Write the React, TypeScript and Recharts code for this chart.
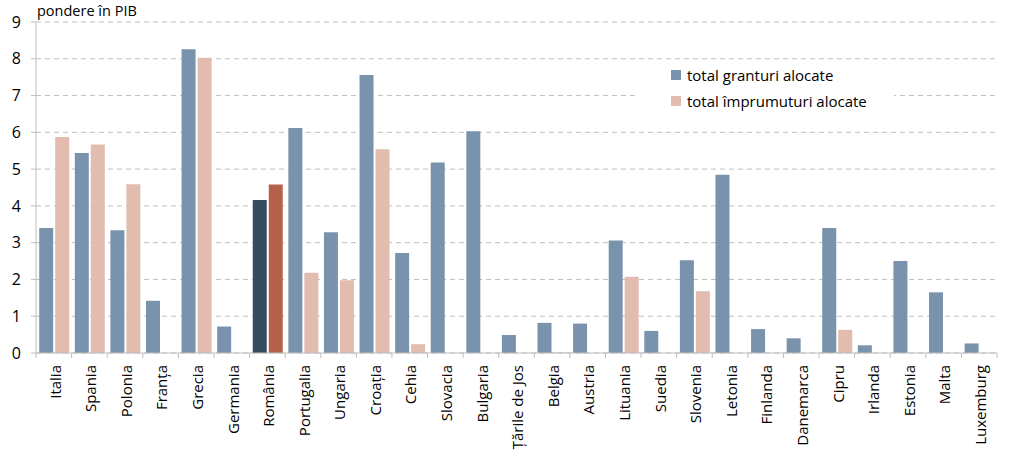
import React from 'react'
import { BarChart, Bar, XAxis, YAxis, CartesianGrid, Legend, Cell } from 'recharts'

const countries = [
    'Italia', 'Spania', 'Polonia', 'Franța', 'Grecia', 'Germania', 'România', 'Portugalia',
    'Ungaria', 'Croația', 'Cehia', 'Slovacia', 'Bulgaria', 'Țările de Jos', 'Belgia', 'Austria',
    'Lituania', 'Suedia', 'Slovenia', 'Letonia', 'Finlanda', 'Danemarca', 'Cipru', 'Irlanda',
    'Estonia', 'Malta', 'Luxemburg'
]

const granturi = [
    3.40, 5.44, 3.34, 1.42, 8.26, 0.72, 4.16, 6.12, 3.28, 7.56, 2.72, 5.18, 6.03, 0.49,
    0.82, 0.80, 3.06, 0.60, 2.52, 4.85, 0.65, 0.40, 3.40, 0.21, 2.50, 1.65, 0.26
]

const imprumuturi = [
    5.87, 5.67, 4.59, 0, 8.03, 0, 4.58, 2.18, 1.98, 5.54, 0.24, 0, 0, 0,
    0.02, 0, 2.07, 0, 1.68, 0, 0, 0, 0.63, 0, 0, 0, 0
]

const yTicks = [0, 1, 2, 3, 4, 5, 6, 7, 8, 9]

const GRANT = '#7A93AD'
const LOAN = '#E1BCAF'
const RO_GRANT = '#344B60'
const RO_LOAN = '#B5604A'
const FONT = '"Open Sans", "Noto Sans", sans-serif'

const data = countries.map((c, i) => ({ country: c, granturi: granturi[i], imprumuturi: imprumuturi[i] }))

const STEP = 961 / countries.length

function CountryTick(props: any) {
    const { x, y, payload, index } = props
    const axisY = y - 9
    const ty = axisY + 12
    return (
        <g>
            <line x1={x - STEP / 2} y1={axisY} x2={x - STEP / 2} y2={axisY + 5} stroke="#BFBFBF" />
            {index === countries.length - 1 && (
                <line x1={x + STEP / 2} y1={axisY} x2={x + STEP / 2} y2={axisY + 5} stroke="#BFBFBF" />
            )}
            <text
                x={x}
                y={ty}
                dy="0.45em"
                textAnchor="end"
                transform={`rotate(-90, ${x}, ${ty})`}
                fill="#000"
                fontSize={15}
                fontFamily={FONT}
            >
                {payload.value}
            </text>
        </g>
    )
}

function LegendBox(props: any) {
    const items = (props.payload || []) as any[]
    return (
        <div style={{ background: '#fff', padding: '0 0 6px 35px', fontFamily: FONT, fontSize: 15, textAlign: 'left' }}>
            {items.map((it) => (
                <div key={it.value} style={{ display: 'flex', alignItems: 'center', height: 26 }}>
                    <span style={{ width: 10, height: 10, background: it.color, marginRight: 6 }} />
                    <span style={{ color: '#000' }}>{it.value}</span>
                </div>
            ))}
        </div>
    )
}

export default function App() {
    return (
        <div style={{ position: 'absolute', left: 0, top: 0 }}>
            <BarChart
                width={1024}
                height={463}
                data={data}
                margin={{ top: 22, right: 27, left: 0, bottom: 0 }}
                barCategoryGap="9%"
                barGap={2}
            >
                <text x={37} y={16} fontSize={14.5} fontFamily={FONT} fill="#000">
                    pondere în PIB
                </text>
                <CartesianGrid vertical={false} stroke="#BFBFBF" strokeDasharray="5 4" />
                <XAxis
                    dataKey="country"
                    interval={0}
                    height={110}
                    axisLine={{ stroke: '#BFBFBF' }}
                    tickLine={false}
                    tickSize={5}
                    tickMargin={4}
                    tick={<CountryTick />}
                />
                <YAxis
                    width={36}
                    domain={[0, 9]}
                    ticks={yTicks}
                    interval={0}
                    axisLine={{ stroke: '#BFBFBF' }}
                    tickLine={{ stroke: '#BFBFBF' }}
                    tickSize={5}
                    tickMargin={10}
                    tick={{ fill: '#000', fontSize: 16, fontFamily: FONT }}
                />
                <Legend
                    layout="horizontal"
                    verticalAlign="middle"
                    align="center"
                    wrapperStyle={{ left: 636, top: 62, width: 258 }}
                    content={<LegendBox />}
                />
                <Bar dataKey="granturi" name="total granturi alocate" fill={GRANT} isAnimationActive={false}>
                    {data.map((d, i) => (
                        <Cell key={`g-${i}`} fill={d.country === 'România' ? RO_GRANT : GRANT} />
                    ))}
                </Bar>
                <Bar dataKey="imprumuturi" name="total împrumuturi alocate" fill={LOAN} isAnimationActive={false}>
                    {data.map((d, i) => (
                        <Cell key={`l-${i}`} fill={d.country === 'România' ? RO_LOAN : LOAN} />
                    ))}
                </Bar>
            </BarChart>
        </div>
    )
}
